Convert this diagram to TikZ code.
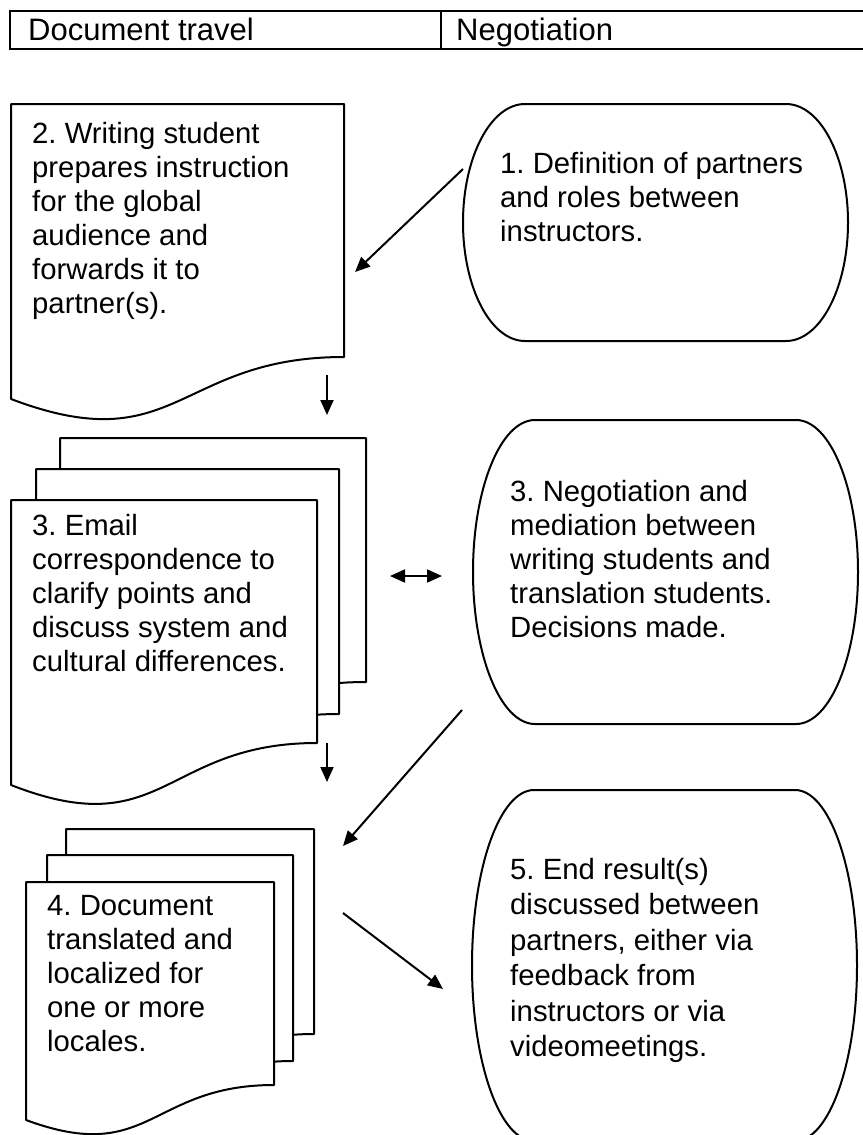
\documentclass[tikz,border=0pt]{standalone}
\usepackage{fontspec}
\setmainfont{Liberation Sans}
\usepackage{tikz}
\usetikzlibrary{arrows.meta}
\frenchspacing

\begin{document}
\begin{tikzpicture}[x=1pt, y=-1pt,
        shp/.style={draw, line width=2pt, fill=white, line join=round},
        arr/.style={line width=2pt, -{Triangle[length=15pt, width=13pt]}},
        txt/.style={anchor=north west, align=left, inner sep=0pt, font=\fontsize{29.3}{34}\selectfont}]
        \useasboundingbox (0, 0) rectangle (862, 1135);

        % header row
        \draw[line width=1.6pt] (10, 11) rectangle (870, 49);
        \draw[line width=1.6pt] (441, 11) -- (441, 49);
        \node[anchor=base west, inner sep=0pt, font=\fontsize{31}{34}\selectfont] (hdoc) at (28, 40) {Document travel};
        \node[anchor=base west, inner sep=0pt, font=\fontsize{31}{34}\selectfont] (hneg) at (456, 40) {Negotiation};

        % document travel column
        \draw[shp] (11, 104) -- (344, 104) -- (344, 357) .. controls (177, 357) and (177, 462) .. (11, 399) -- cycle;
        \node[txt] (d2) at (32, 122) {2. Writing student\\prepares instruction\\for the global\\audience and\\forwards it to\\partner(s).};

        \draw[shp] (60, 438) -- (366, 438) -- (366, 682) .. controls (213, 682) and (213, 775) .. (60, 722) -- cycle;
        \draw[shp] (36, 469) -- (339, 469) -- (339, 714) .. controls (187, 714) and (187, 807) .. (36, 754) -- cycle;
        \draw[shp] (11, 500) -- (317, 500) -- (317, 743) .. controls (164, 743) and (164, 845) .. (11, 785) -- cycle;
        \node[txt] (d3) at (32, 514) {3. Email\\correspondence to\\clarify points and\\discuss system and\\cultural differences.};

        \draw[shp] (66, 829) -- (314, 829) -- (314, 1034) .. controls (190, 1034) and (190, 1111) .. (66, 1069) -- cycle;
        \draw[shp] (47, 855) -- (293, 855) -- (293, 1061) .. controls (170, 1061) and (170, 1139) .. (47, 1096) -- cycle;
        \draw[shp] (26, 882) -- (274, 882) -- (274, 1085) .. controls (150, 1085) and (150, 1166) .. (26, 1120) -- cycle;
        \node[txt] (d4) at (47, 895) {4. Document\\translated and\\localized for\\one or more\\locales.};

        % negotiation column
        \draw[shp] (525, 104) -- (786, 104) arc[start angle=90, end angle=-90, x radius=62pt, y radius=118.5pt]
            -- (525, 341) arc[start angle=270, end angle=90, x radius=62pt, y radius=118.5pt] -- cycle;
        \node[txt] (n1) at (500, 152) {1. Definition of partners\\and roles between\\instructors.};

        \draw[shp] (535, 420) -- (796, 420) arc[start angle=90, end angle=-90, x radius=62pt, y radius=152pt]
            -- (535, 724) arc[start angle=270, end angle=90, x radius=62pt, y radius=152pt] -- cycle;
        \node[txt] (n3) at (510, 480) {3. Negotiation and\\mediation between\\writing students and\\translation students.\\Decisions made.};

        \draw[shp] (534, 790) -- (795, 790) arc[start angle=90, end angle=-90, x radius=62pt, y radius=175.5pt]
            -- (534, 1141) arc[start angle=270, end angle=90, x radius=62pt, y radius=175.5pt] -- cycle;
        \node[txt, font=\fontsize{29.3}{35.5}\selectfont] (n5) at (510, 858) {5. End result(s)\\discussed between\\partners, either via\\feedback from\\instructors or via\\videomeetings.};

        % connectors
        \coordinate (n1out) at (463, 169);
        \coordinate (d2in) at (355, 272);
        \coordinate (d2down) at (327, 375);
        \coordinate (d3top) at (327, 415);
        \coordinate (d3side) at (390, 576);
        \coordinate (n3side) at (442, 576);
        \coordinate (n3out) at (462, 710);
        \coordinate (d4in) at (343, 846);
        \coordinate (d3down) at (327, 743);
        \coordinate (d4top) at (327, 782);
        \coordinate (d4out) at (343, 913);
        \coordinate (n5in) at (443, 989);

        \draw[arr] (n1out) -- (d2in);
        \draw[arr] (d2down) -- (d3top);
        \draw[arr, {Triangle[length=15pt, width=13pt]}-{Triangle[length=15pt, width=13pt]}] (d3side) -- (n3side);
        \draw[arr] (n3out) -- (d4in);
        \draw[arr] (d3down) -- (d4top);
        \draw[arr] (d4out) -- (n5in);
    \end{tikzpicture}
\end{document}
